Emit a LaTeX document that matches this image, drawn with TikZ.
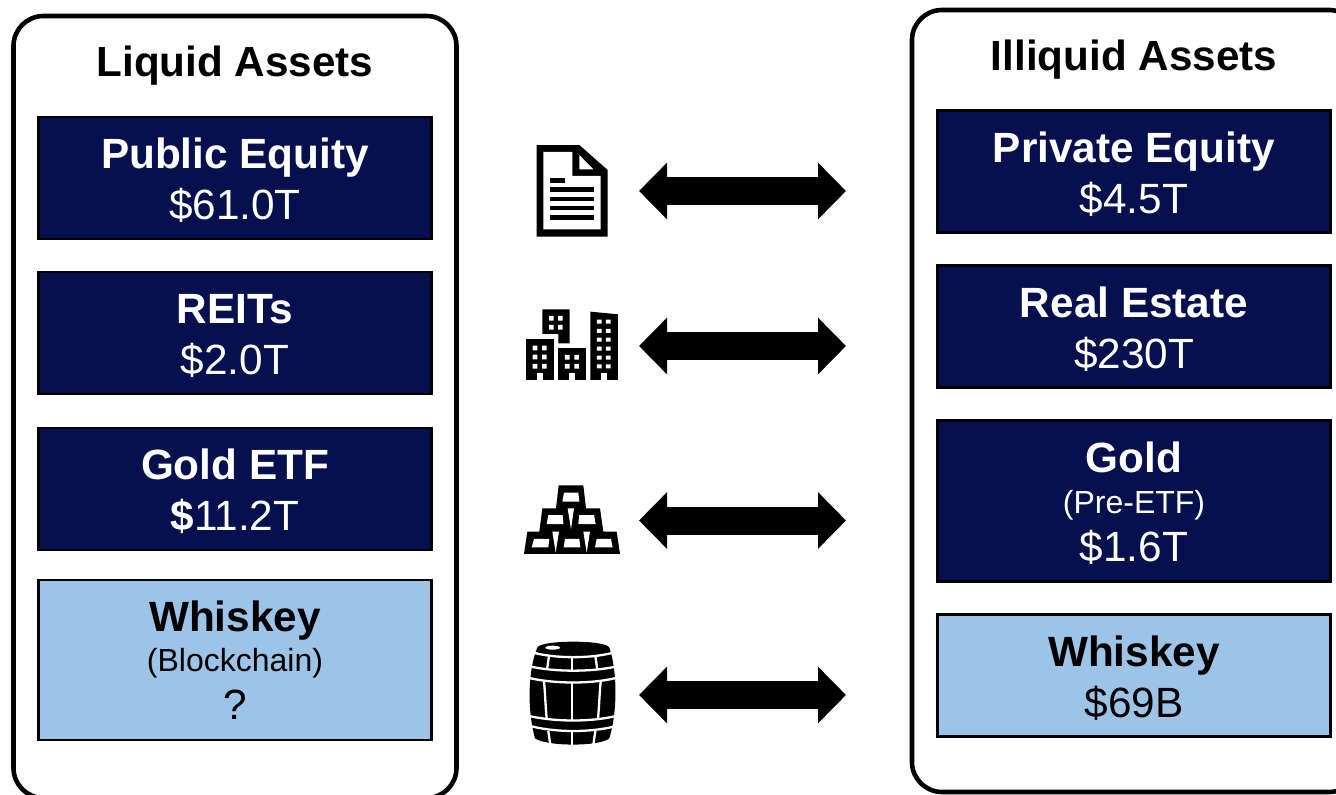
\documentclass[tikz,border=0pt]{standalone}
\usepackage{fontspec}
\setmainfont{Liberation Sans}
\usetikzlibrary{arrows.meta}
\definecolor{navybox}{HTML}{06104F}
\definecolor{lightbox}{HTML}{9DC3E6}
\tikzset{
    panelbox/.style={draw=black,line width=4.6pt,rounded corners=30pt,fill=white,minimum width=443pt,inner sep=0pt},
    titletext/.style={anchor=base,font=\fontsize{42.2}{50}\selectfont\bfseries},
    assetbox/.style={draw=black,line width=2.4pt,minimum width=393pt,inner sep=0pt,align=center,font=\fontsize{42.3}{51}\selectfont},
    navyasset/.style={assetbox,fill=navybox,text=white},
    lightasset/.style={assetbox,fill=lightbox,text=black},
    bigarrow/.style={line width=28pt,{Triangle[length=28pt,width=55pt]}-{Triangle[length=28pt,width=55pt]}},
    iconcut/.style={draw=white,line width=2.3pt},
}
\newcommand{\smalltext}[1]{{\fontsize{32}{40}\selectfont #1}}
\newcommand{\topstrut}[1]{\rule{0pt}{#1pt}}
\begin{document}
\begin{tikzpicture}[x=1pt,y=-1pt]
    \path[use as bounding box,clip] (0,0) rectangle (1336,795);
    %panels and their titles
    \node[panelbox,minimum height=782pt] (liquid) at (235,407) {};
    \node[panelbox,minimum height=782pt,minimum width=447pt] (illiquid) at (1135.5,401) {};
    \node[titletext] (liquidtitle) at (235,76) {Liquid Assets};
    \node[titletext] (illiquidtitle) at (1134,70) {Illiquid Assets};
    %left column
    \node[navyasset,minimum height=122pt] (publiceq) at (235,178) {\topstrut{35}\textbf{Public Equity}\\\$61.0T};
    \node[navyasset,minimum height=122pt] (reits) at (235,333) {\topstrut{35}\textbf{REITs}\\\$2.0T};
    \node[navyasset,minimum height=122pt] (goldetf) at (235,489) {\topstrut{35}\textbf{Gold ETF}\\\textbf{\$}11.2T};
    \node[lightasset,minimum height=160pt] (whiskeychain) at (235,660) {\textbf{Whiskey}\\[-11pt]\smalltext{(Blockchain)}\\[-3pt]?};
    %right column
    \node[navyasset,minimum height=122pt] (privateeq) at (1134,171.5) {\topstrut{35}\textbf{Private Equity}\\\$4.5T};
    \node[navyasset,minimum height=122pt] (realestate) at (1134,326.5) {\topstrut{35}\textbf{Real Estate}\\\$230T};
    \node[navyasset,minimum height=161pt] (gold) at (1134,501) {\topstrut{34}\textbf{Gold}\\[-10pt]\smalltext{(Pre-ETF)}\\[-3pt]\$1.6T};
    \node[lightasset,minimum height=122pt] (whiskey) at (1134,675.5) {\topstrut{35}\textbf{Whiskey}\\\$69B};
    %arrows between the columns
    \coordinate (arrowa) at (639,191);
    \coordinate (arrowb) at (846,191);
    \coordinate (arrowc) at (639,346);
    \coordinate (arrowd) at (846,346);
    \coordinate (arrowe) at (639,520.5);
    \coordinate (arrowf) at (846,520.5);
    \coordinate (arrowg) at (639,695);
    \coordinate (arrowh) at (846,695);
    \draw[bigarrow] (arrowa) -- (arrowb);
    \draw[bigarrow] (arrowc) -- (arrowd);
    \draw[bigarrow] (arrowe) -- (arrowf);
    \draw[bigarrow] (arrowg) -- (arrowh);
    %document icon
    \begin{scope}[shift={(500,130)},scale=0.3333]
        \fill (110,45) -- (238,45) -- (323,120) -- (323,320) -- (110,320) -- cycle;
        \fill[white] (130,66) -- (217,66) -- (217,138) -- (302,138) -- (302,298) -- (130,298) -- cycle;
        \fill[white] (238,75) -- (280,118) -- (238,118) -- cycle;
        \fill (150,144) rectangle (195,158);
        \fill (150,171) rectangle (282,186);
        \fill (150,201) rectangle (282,214);
        \fill (150,228) rectangle (282,241);
        \fill (150,256) rectangle (282,269);
    \end{scope}
    %buildings icon
    \begin{scope}[shift={(500,130)},scale=0.3333]
        \fill (127,538) -- (209,538) -- (209,640) -- (175,640) -- (175,612) -- (127,612) -- cycle;
        \fill (78,628) rectangle (161,750);
        \fill (175,655) rectangle (257,750);
        \fill (271,545) -- (354,553) -- (354,750) -- (271,750) -- cycle;
        \fill[white] (147,558) rectangle (161,572) (174,558) rectangle (188,572);
        \fill[white] (147,585) rectangle (161,599) (174,585) rectangle (188,599);
        \fill[white] (98,647) rectangle (112,661) (126,647) rectangle (140,661);
        \fill[white] (98,674) rectangle (112,688) (126,674) rectangle (140,688);
        \fill[white] (98,702) rectangle (112,716) (126,702) rectangle (140,716);
        \fill[white] (110,750) -- (110,730) -- (128,730) -- (128,750) -- cycle;
        \fill[white] (195,675) rectangle (209,689) (223,675) rectangle (237,689);
        \fill[white] (195,702) rectangle (209,716) (223,702) rectangle (237,716);
        \fill[white] (207,750) -- (207,730) -- (225,730) -- (225,750) -- cycle;
        \fill[white] (291,569) rectangle (305,581) (318,569) rectangle (332,581);
        \fill[white] (291,597) rectangle (305,609) (318,597) rectangle (332,609);
        \fill[white] (291,623) rectangle (305,635) (318,623) rectangle (332,635);
        \fill[white] (291,650) rectangle (305,662) (318,650) rectangle (332,662);
        \fill[white] (291,677) rectangle (305,689) (318,677) rectangle (332,689);
        \fill[white] (291,703) rectangle (305,715) (318,703) rectangle (332,715);
        \fill[white] (303,750) -- (303,730) -- (321,730) -- (321,750) -- cycle;
    \end{scope}
    %gold bars icon
    \begin{scope}[shift={(500,470)},scale=0.3333]
        \fill (176,46) -- (250,46) -- (258,115) -- (300,115) -- (310,185) -- (350,185) -- (360,252) -- (72,252) -- (82,185) -- (118,185) -- (127,115) -- (168,115) -- cycle;
        \fill[white] (192,68) -- (235,68) -- (238,95) -- (187,95) -- cycle;
        \fill[white] (145,135) -- (188,135) -- (190,162) -- (140,162) -- cycle;
        \fill[white] (238,135) -- (282,135) -- (287,162) -- (235,162) -- cycle;
        \fill[white] (102,207) -- (148,207) -- (145,232) -- (95,232) -- cycle;
        \fill[white] (195,207) -- (238,207) -- (241,232) -- (191,232) -- cycle;
        \fill[white] (290,207) -- (333,207) -- (338,232) -- (285,232) -- cycle;
        \fill[white] (203,115) -- (222,115) -- (213,178) -- cycle;
        \fill[white] (157,185) -- (177,185) -- (167,248) -- cycle;
        \fill[white] (250,185) -- (270,185) -- (260,248) -- cycle;
    \end{scope}
    %barrel icon
    \begin{scope}[shift={(520,635)},scale=0.3333]
        \fill (52,38) .. controls (60,14) and (260,14) .. (268,38) .. controls (290,100) and (295,220) .. (268,310) .. controls (240,335) and (80,335) .. (45,310) .. controls (20,220) and (25,100) .. (52,38) -- cycle;
        \fill[white] (98,38) ellipse [x radius=22,y radius=6];
        \draw[iconcut] (30,50) .. controls (100,72) and (220,72) .. (290,50);
        \draw[iconcut] (20,92) .. controls (100,112) and (220,112) .. (300,92);
        \draw[iconcut] (15,126) .. controls (100,148) and (220,148) .. (300,126);
        \draw[iconcut] (15,240) .. controls (100,262) and (220,262) .. (300,240);
        \draw[iconcut] (20,270) .. controls (100,294) and (220,294) .. (300,270);
        \draw[iconcut] (87,62) -- (81,105);
        \draw[iconcut] (155,66) -- (155,108);
        \draw[iconcut] (226,62) -- (232,105);
        \draw[iconcut] (72,140) .. controls (76,180) and (76,210) .. (80,250);
        \draw[iconcut] (155,142) -- (155,256);
        \draw[iconcut] (242,140) .. controls (238,180) and (238,210) .. (234,250);
        \draw[iconcut] (85,288) -- (91,330);
        \draw[iconcut] (155,290) -- (155,332);
        \draw[iconcut] (226,288) -- (220,330);
    \end{scope}
\end{tikzpicture}
\end{document}
